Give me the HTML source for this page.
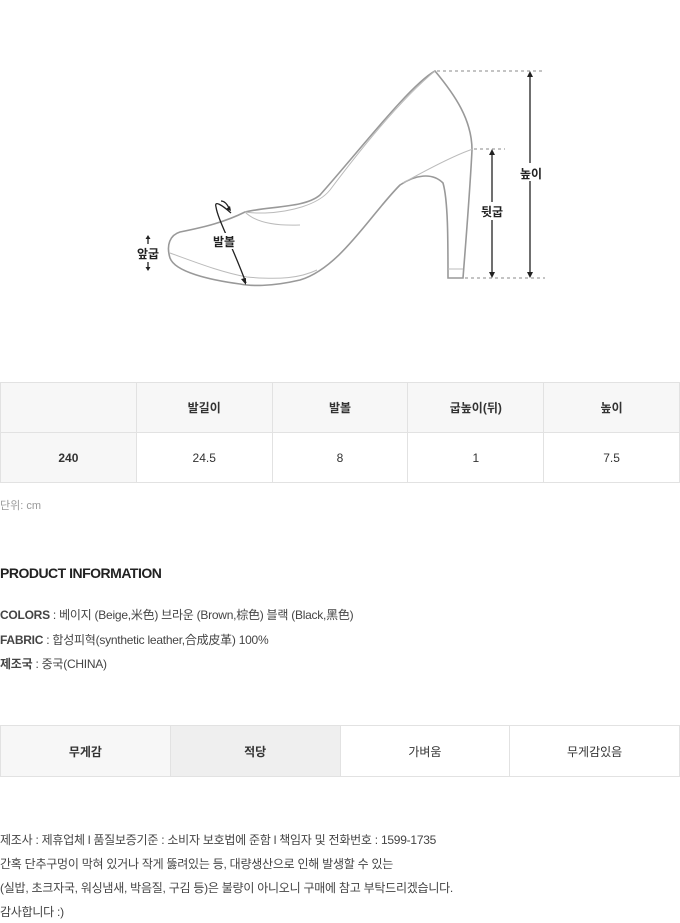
<!DOCTYPE html>
<html><head><meta charset="utf-8"><style>
*{margin:0;padding:0;box-sizing:border-box}
body{width:680px;height:923px;background:#fff;position:relative;overflow:hidden;font-family:"Liberation Sans","Noto Sans CJK KR",sans-serif;color:#333}
.a{position:absolute;white-space:nowrap}
table{border-collapse:collapse;position:absolute;left:0;width:680px;table-layout:fixed}
td{border:1px solid #e2e2e2;text-align:center;font-size:12px;color:#333}
.g{background:#f7f7f7}
.b{font-weight:bold}
.t{font-size:12px;color:#444;letter-spacing:-0.25px}
</style></head><body>
<svg class="a" style="left:0;top:0" width="680" height="300" viewBox="0 0 680 300">
<g fill="none" stroke="#999" stroke-width="1.6">
<path d="M435,71 C455,95 472,120 472,150 C470,190 466,240 463,278 L448,278 C448,240 448,200 443,183 C432,172 415,175 400,185 C370,215 340,268 300,280 C270,287 250,286 240,284 C210,280 175,272 170,258 C166,245 170,235 180,232 C205,227 225,222 245,212 C270,206 305,208 320,195 C360,150 410,85 435,71 Z"/>
</g>
<g fill="none" stroke="#bbb" stroke-width="1">
<path d="M435,71 C400,100 360,150 330,190 C318,205 290,212 265,213 C250,213 245,212 245,212"/>
<path d="M245,212 C255,222 275,226 300,225"/>
<path d="M403,183 C430,168 455,155 473,149"/>
<path d="M170,253 C195,262 220,272 247,277 C280,280 300,278 317,270"/>
<path d="M448,269 L463,269"/>
</g>
<g stroke="#888" stroke-width="1" stroke-dasharray="3,3">
<line x1="437" y1="71" x2="545" y2="71"/>
<line x1="474" y1="149" x2="505" y2="149"/>
<line x1="465" y1="278" x2="545" y2="278"/>
</g>
<g stroke="#222" stroke-width="1.3" fill="#222">
<line x1="530" y1="74" x2="530" y2="275"/>
<path d="M530,71 l-3,6 h6z M530,278 l-3,-6 h6z" stroke="none"/>
<line x1="492" y1="152" x2="492" y2="275"/>
<path d="M492,149 l-3,6 h6z M492,278 l-3,-6 h6z" stroke="none"/>
<line x1="148" y1="238" x2="148" y2="244"/>
<path d="M148,235 l-2.5,4 h5z" stroke="none"/>
<line x1="148" y1="262" x2="148" y2="268"/>
<path d="M148,271 l-2.5,-4 h5z" stroke="none"/>
<path d="M231,213 C222,205 214,200 216,207 C218,220 232,245 246,283" fill="none"/>
<path d="M246,285 l-5,-6 l5,-1z" stroke="none"/>
<path d="M221,201 C224,201 227,204 229,208" fill="none"/>
<path d="M231,211 l-5,-2 l4,-3z" stroke="none"/>
</g>
<rect x="522" y="163" width="18" height="18" fill="#fff"/>
<text x="531" y="178" font-size="12" font-weight="bold" text-anchor="middle" fill="#222" font-family="Liberation Sans,Noto Sans CJK KR,sans-serif">높이</text>
<rect x="482" y="202" width="20" height="18" fill="#fff"/>
<text x="492" y="216" font-size="12" font-weight="bold" text-anchor="middle" fill="#222" font-family="Liberation Sans,Noto Sans CJK KR,sans-serif">뒷굽</text>
<text x="148" y="258" font-size="12" font-weight="bold" text-anchor="middle" fill="#222" font-family="Liberation Sans,Noto Sans CJK KR,sans-serif">앞굽</text>
<rect x="210" y="233" width="28" height="16" fill="#fff"/>
<text x="224" y="246" font-size="12" font-weight="bold" text-anchor="middle" fill="#222" font-family="Liberation Sans,Noto Sans CJK KR,sans-serif">발볼</text>
</svg>
<table style="top:382px">
<tr style="height:50px"><td class="g"></td><td class="g b">발길이</td><td class="g b">발볼</td><td class="g b">굽높이(뒤)</td><td class="g b">높이</td></tr>
<tr style="height:50px"><td class="g b">240</td><td>24.5</td><td>8</td><td>1</td><td>7.5</td></tr>
</table>
<div class="a" style="left:0;top:497px;font-size:11px;color:#999">단위: cm</div>
<div class="a" style="left:0;top:565px;font-size:14px;font-weight:bold;color:#222;letter-spacing:-0.5px">PRODUCT INFORMATION</div>
<div class="a t" style="left:0;top:606px"><b>COLORS</b> : 베이지 (Beige,米色) 브라운 (Brown,棕色) 블랙 (Black,黑色)</div>
<div class="a t" style="left:0;top:631px"><b>FABRIC</b> : 합성피혁(synthetic leather,合成皮革) 100%</div>
<div class="a t" style="left:0;top:655px"><b>제조국</b> : 중국(CHINA)</div>
<table style="top:725px">
<tr style="height:51px"><td class="g b">무게감</td><td class="b" style="background:#efefef">적당</td><td>가벼움</td><td>무게감있음</td></tr>
</table>
<div class="a t" style="left:0;top:831px">제조사 : 제휴업체 l 품질보증기준 : 소비자 보호법에 준함 l 책임자 및 전화번호 : 1599-1735</div>
<div class="a t" style="left:0;top:855px">간혹 단추구멍이 막혀 있거나 작게 뚫려있는 등, 대량생산으로 인해 발생할 수 있는</div>
<div class="a t" style="left:0;top:879px">(실밥, 초크자국, 워싱냄새, 박음질, 구김 등)은 불량이 아니오니 구매에 참고 부탁드리겠습니다.</div>
<div class="a t" style="left:0;top:903px">감사합니다 :)</div>
</body></html>
